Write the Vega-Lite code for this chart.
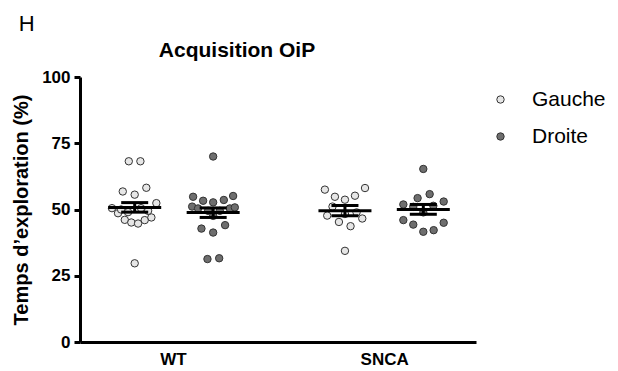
{
  "$schema": "https://vega.github.io/schema/vega-lite/v6.json",
  "background": "white",
  "padding": {"left": 11, "top": 13, "right": 0, "bottom": 0},
  "title": {"text": "H", "anchor": "start", "frame": "bounds", "fontSize": 22, "fontWeight": "normal", "font": "Liberation Sans", "color": "#000000", "dx": 7, "offset": 4},
  "config": {
    "view": {"stroke": null},
    "font": "Liberation Sans",
    "axis": {"labelFont": "Liberation Sans", "titleFont": "Liberation Sans", "labelColor": "#000000", "titleColor": "#000000", "domainColor": "#000000", "tickColor": "#000000"}
  },
  "datasets": {
    "pts": [
      {"geno": "WT", "side": "Gauche", "pos": 0.582, "value": 68.2},
      {"geno": "WT", "side": "Gauche", "pos": 0.692, "value": 68.2},
      {"geno": "WT", "side": "Gauche", "pos": 0.525, "value": 56.8},
      {"geno": "WT", "side": "Gauche", "pos": 0.638, "value": 55.6},
      {"geno": "WT", "side": "Gauche", "pos": 0.748, "value": 58.2},
      {"geno": "WT", "side": "Gauche", "pos": 0.843, "value": 52.4},
      {"geno": "WT", "side": "Gauche", "pos": 0.423, "value": 50.5},
      {"geno": "WT", "side": "Gauche", "pos": 0.480, "value": 48.6},
      {"geno": "WT", "side": "Gauche", "pos": 0.544, "value": 46.1},
      {"geno": "WT", "side": "Gauche", "pos": 0.606, "value": 45.1},
      {"geno": "WT", "side": "Gauche", "pos": 0.670, "value": 44.7},
      {"geno": "WT", "side": "Gauche", "pos": 0.733, "value": 46.0},
      {"geno": "WT", "side": "Gauche", "pos": 0.796, "value": 47.0},
      {"geno": "WT", "side": "Gauche", "pos": 0.638, "value": 29.7},
      {"geno": "WT", "side": "Gauche", "pos": 0.509, "value": 50.0},
      {"geno": "WT", "side": "Gauche", "pos": 0.575, "value": 49.0},
      {"geno": "WT", "side": "Gauche", "pos": 0.698, "value": 50.5},
      {"geno": "WT", "side": "Gauche", "pos": 0.765, "value": 49.5},
      {"geno": "WT", "side": "Droite", "pos": 1.381, "value": 70.0},
      {"geno": "WT", "side": "Droite", "pos": 1.191, "value": 54.8},
      {"geno": "WT", "side": "Droite", "pos": 1.286, "value": 53.3},
      {"geno": "WT", "side": "Droite", "pos": 1.381, "value": 52.7},
      {"geno": "WT", "side": "Droite", "pos": 1.482, "value": 53.6},
      {"geno": "WT", "side": "Droite", "pos": 1.570, "value": 55.1},
      {"geno": "WT", "side": "Droite", "pos": 1.182, "value": 51.1},
      {"geno": "WT", "side": "Droite", "pos": 1.238, "value": 50.4},
      {"geno": "WT", "side": "Droite", "pos": 1.539, "value": 50.4},
      {"geno": "WT", "side": "Droite", "pos": 1.586, "value": 50.8},
      {"geno": "WT", "side": "Droite", "pos": 1.381, "value": 47.6},
      {"geno": "WT", "side": "Droite", "pos": 1.270, "value": 42.8},
      {"geno": "WT", "side": "Droite", "pos": 1.381, "value": 41.3},
      {"geno": "WT", "side": "Droite", "pos": 1.494, "value": 44.1},
      {"geno": "WT", "side": "Droite", "pos": 1.327, "value": 31.3},
      {"geno": "WT", "side": "Droite", "pos": 1.438, "value": 31.6},
      {"geno": "WT", "side": "Droite", "pos": 1.333, "value": 49.5},
      {"geno": "WT", "side": "Droite", "pos": 1.444, "value": 49.5},
      {"geno": "SNCA", "side": "Gauche", "pos": 2.439, "value": 57.5},
      {"geno": "SNCA", "side": "Gauche", "pos": 2.534, "value": 54.8},
      {"geno": "SNCA", "side": "Gauche", "pos": 2.629, "value": 53.7},
      {"geno": "SNCA", "side": "Gauche", "pos": 2.724, "value": 55.2},
      {"geno": "SNCA", "side": "Gauche", "pos": 2.819, "value": 58.1},
      {"geno": "SNCA", "side": "Gauche", "pos": 2.511, "value": 51.1},
      {"geno": "SNCA", "side": "Gauche", "pos": 2.461, "value": 47.7},
      {"geno": "SNCA", "side": "Gauche", "pos": 2.572, "value": 45.3},
      {"geno": "SNCA", "side": "Gauche", "pos": 2.682, "value": 43.7},
      {"geno": "SNCA", "side": "Gauche", "pos": 2.793, "value": 46.6},
      {"geno": "SNCA", "side": "Gauche", "pos": 2.629, "value": 34.4},
      {"geno": "SNCA", "side": "Gauche", "pos": 2.629, "value": 48.3},
      {"geno": "SNCA", "side": "Gauche", "pos": 2.739, "value": 48.9},
      {"geno": "SNCA", "side": "Droite", "pos": 3.371, "value": 65.3},
      {"geno": "SNCA", "side": "Droite", "pos": 3.317, "value": 54.3},
      {"geno": "SNCA", "side": "Droite", "pos": 3.431, "value": 55.8},
      {"geno": "SNCA", "side": "Droite", "pos": 3.182, "value": 51.9},
      {"geno": "SNCA", "side": "Droite", "pos": 3.564, "value": 53.0},
      {"geno": "SNCA", "side": "Droite", "pos": 3.466, "value": 51.4},
      {"geno": "SNCA", "side": "Droite", "pos": 3.276, "value": 51.0},
      {"geno": "SNCA", "side": "Droite", "pos": 3.182, "value": 46.0},
      {"geno": "SNCA", "side": "Droite", "pos": 3.276, "value": 44.3},
      {"geno": "SNCA", "side": "Droite", "pos": 3.371, "value": 41.6},
      {"geno": "SNCA", "side": "Droite", "pos": 3.469, "value": 42.2},
      {"geno": "SNCA", "side": "Droite", "pos": 3.564, "value": 45.0},
      {"geno": "SNCA", "side": "Droite", "pos": 3.371, "value": 48.9}
    ],
    "summary": [
      {"geno": "WT", "side": "Gauche", "pos": 0.638, "mean": 50.8, "lo": 49.0, "hi": 52.6},
      {"geno": "WT", "side": "Droite", "pos": 1.381, "mean": 48.9, "lo": 47.0, "hi": 50.6},
      {"geno": "SNCA", "side": "Gauche", "pos": 2.629, "mean": 49.5, "lo": 47.6, "hi": 51.5},
      {"geno": "SNCA", "side": "Droite", "pos": 3.371, "mean": 50.0, "lo": 48.2, "hi": 51.9}
    ]
  },
  "vconcat": [
    {
      "width": 396,
      "height": 265,
      "title": {"text": "Acquisition OiP", "anchor": "middle", "fontSize": 21, "fontWeight": "bold", "font": "Liberation Sans", "color": "#000000", "dx": -41, "offset": 7},
      "layer": [
        {
          "data": {"name": "pts"},
          "mark": {"type": "point", "filled": true, "shape": "circle", "size": 55, "stroke": "#333333", "strokeWidth": 1, "opacity": 1},
          "encoding": {
            "x": {"field": "pos", "type": "quantitative", "scale": {"domain": [0.12, 3.87], "nice": false, "zero": false},
                  "axis": {"values": [1, 3], "labelExpr": "datum.value == 1 ? 'WT' : 'SNCA'", "grid": false, "ticks": false, "title": null, "domainWidth": 3, "labelFontSize": 17, "labelFontWeight": "bold", "labelPadding": 9, "labelFlush": false}},
            "y": {"field": "value", "type": "quantitative", "scale": {"domain": [0, 100], "nice": false},
                  "axis": {"values": [0, 25, 50, 75, 100], "grid": false, "title": "Temps d’exploration (%)", "titleFontSize": 20, "titleFontWeight": "bold", "titlePadding": 10, "labelFontSize": 17, "labelFontWeight": "bold", "labelPadding": 4, "tickSize": 6, "tickWidth": 3, "domainWidth": 3}},
            "fill": {"field": "side", "type": "nominal", "scale": {"domain": ["Gauche", "Droite"], "range": ["#e6e6e6", "#6e6e6e"]},
                     "legend": {"title": null, "orient": "none", "legendX": 410, "legendY": 12, "labelFontSize": 21, "labelFont": "Liberation Sans", "labelColor": "#000000", "symbolSize": 55, "symbolStrokeColor": "#333333", "symbolStrokeWidth": 1, "rowPadding": 15, "labelOffset": 21, "symbolType": "circle"}}
          }
        },
        {
          "mark": {"type": "rule", "strokeDash": [2, 2.5], "strokeWidth": 2, "color": "#000000"},
          "encoding": {"y": {"datum": 50, "type": "quantitative"}}
        },
        {
          "data": {"name": "summary"},
          "mark": {"type": "tick", "orient": "horizontal", "size": 53, "thickness": 3, "color": "#000000", "opacity": 1},
          "encoding": {"x": {"field": "pos", "type": "quantitative"}, "y": {"field": "mean", "type": "quantitative"}}
        },
        {
          "data": {"name": "summary"},
          "mark": {"type": "rule", "strokeWidth": 3, "color": "#000000"},
          "encoding": {"x": {"field": "pos", "type": "quantitative"}, "y": {"field": "lo", "type": "quantitative"}, "y2": {"field": "hi"}}
        },
        {
          "data": {"name": "summary"},
          "mark": {"type": "tick", "orient": "horizontal", "size": 27, "thickness": 3, "color": "#000000", "opacity": 1},
          "encoding": {"x": {"field": "pos", "type": "quantitative"}, "y": {"field": "hi", "type": "quantitative"}}
        },
        {
          "data": {"name": "summary"},
          "mark": {"type": "tick", "orient": "horizontal", "size": 27, "thickness": 3, "color": "#000000", "opacity": 1},
          "encoding": {"x": {"field": "pos", "type": "quantitative"}, "y": {"field": "lo", "type": "quantitative"}}
        }
      ]
    }
  ]
}
